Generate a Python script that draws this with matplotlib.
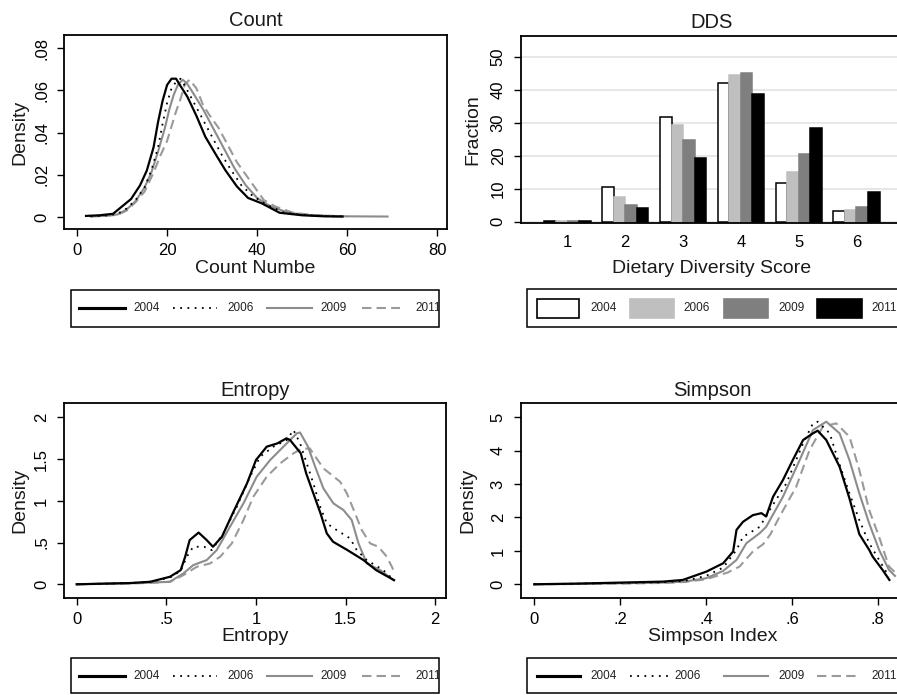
import matplotlib
matplotlib.use("Agg")
import matplotlib.pyplot as plt
from matplotlib.lines import Line2D
from matplotlib.patches import Rectangle
import numpy as np

plt.rcParams["font.family"] = ["Liberation Sans", "DejaVu Sans"]

W, H = 897, 695   # output size in pixels

YEARS = ["2004", "2006", "2009", "2011"]

# ── Count: kernel density of food count ──────────────────────────────────────
count_x_2004 = [2, 5, 8, 10, 12, 14, 15.5, 17, 18, 19, 20, 21, 22, 23, 24.5, 26.5,
                28.5, 31, 33, 35.5, 38, 41, 45, 50, 55, 59]
count_y_2004 = [.0005, .0008, .0015, .005, .0085, .015, .022, .033, .045, .055, .0625,
                .0655, .0655, .062, .057, .048, .038, .029, .022, .0145, .009, .0065,
                .002, .0008, .0003, .0002]
count_x_2006 = [3, 6, 9, 11, 13, 15, 16.5, 18, 19, 20, 21, 22, 23, 24, 25.5, 27.5,
                29.5, 32, 34, 36.5, 39, 42, 46, 50, 55, 60]
count_y_2006 = [.0003, .0006, .0015, .004, .008, .014, .022, .033, .044, .054, .061,
                .064, .0655, .062, .056, .048, .040, .030, .023, .015, .010, .006,
                .002, .001, .0004, .0002]
count_x_2009 = [3, 6, 9, 11, 13, 15, 16.5, 18, 19.5, 20.5, 21.5, 22.5, 23.5, 24.5, 26,
                28, 30, 32.5, 35, 37.5, 40, 43, 47, 52, 60, 69]
count_y_2009 = [.0003, .0005, .0012, .0035, .0075, .014, .021, .031, .042, .051, .058,
                .063, .065, .063, .058, .051, .043, .033, .023, .015, .009, .005,
                .002, .0008, .0003, .0002]
count_x_2011 = [3, 6, 9, 11, 13, 15, 17, 18.5, 20, 21, 22, 23, 24, 25, 26.5, 28, 29.5,
                31.5, 33.5, 35.5, 37.5, 39.5, 41.5, 44, 48, 52, 58]
count_y_2011 = [.0003, .0005, .001, .003, .007, .012, .021, .029, .036, .043, .050,
                .056, .063, .065, .061, .053, .048, .042, .034, .026, .020, .014,
                .008, .005, .002, .001, .0003]
count_xticks = [0, 20, 40, 60, 80]
count_yticks = [0, .02, .04, .06, .08]
count_yticklabels = ["0", ".02", ".04", ".06", ".08"]

# ── DDS: fraction of households by dietary diversity score ───────────────────
dds_scores = [1, 2, 3, 4, 5, 6]
dds_2004 = [0.3, 10.4, 31.6, 42.2, 11.6, 3.3]
dds_2006 = [0.2, 7.6, 29.2, 44.5, 15.0, 3.5]
dds_2009 = [0.3, 5.2, 24.9, 45.2, 20.6, 4.4]
dds_2011 = [0.3, 4.3, 19.4, 38.8, 28.4, 8.9]
dds_yticks = [0, 10, 20, 30, 40, 50]

# ── Entropy ──────────────────────────────────────────────────────────────────
ent_x_2004 = [0, 0.1, 0.2, 0.3, 0.41, 0.52, 0.58, 0.605, 0.63, 0.68, 0.725, 0.76, 0.81,
              0.87, 0.95, 1.0, 1.06, 1.12, 1.17, 1.19, 1.25, 1.28, 1.32, 1.36, 1.395,
              1.43, 1.51, 1.6, 1.67, 1.77]
ent_y_2004 = [0, 0.005, 0.01, 0.015, 0.03, 0.09, 0.17, 0.33, 0.53, 0.62, 0.53, 0.45,
              0.57, 0.85, 1.21, 1.49, 1.65, 1.69, 1.75, 1.73, 1.57, 1.33, 1.09, 0.85,
              0.61, 0.51, 0.41, 0.29, 0.17, 0.05]
ent_x_2006 = [0, 0.1, 0.2, 0.3, 0.41, 0.52, 0.58, 0.614, 0.65, 0.71, 0.753, 0.818, 0.893,
              0.967, 1.023, 1.097, 1.172, 1.209, 1.246, 1.283, 1.32, 1.358, 1.395, 1.45,
              1.525, 1.562, 1.618, 1.71, 1.77]
ent_y_2006 = [0, 0.005, 0.01, 0.015, 0.03, 0.08, 0.16, 0.33, 0.45, 0.45, 0.41, 0.61,
              0.93, 1.29, 1.53, 1.65, 1.73, 1.85, 1.69, 1.45, 1.21, 0.93, 0.73, 0.65,
              0.55, 0.41, 0.29, 0.17, 0.05]
ent_x_2009 = [0, 0.1, 0.2, 0.3, 0.41, 0.52, 0.595, 0.65, 0.725, 0.781, 0.855, 0.93,
              1.004, 1.079, 1.153, 1.228, 1.246, 1.29, 1.33, 1.376, 1.432, 1.488, 1.534,
              1.572, 1.618, 1.693, 1.767]
ent_y_2009 = [0, 0.005, 0.008, 0.012, 0.02, 0.03, 0.13, 0.23, 0.29, 0.41, 0.69, 0.97,
              1.29, 1.49, 1.65, 1.81, 1.82, 1.65, 1.41, 1.15, 0.97, 0.89, 0.77, 0.49,
              0.25, 0.17, 0.05]
ent_x_2011 = [0, 0.1, 0.2, 0.3, 0.41, 0.52, 0.595, 0.67, 0.744, 0.8, 0.865, 0.93, 0.985,
              1.06, 1.135, 1.209, 1.25, 1.30, 1.376, 1.469, 1.507, 1.553, 1.59, 1.637,
              1.683, 1.73, 1.758, 1.77]
ent_y_2011 = [0, 0.003, 0.006, 0.01, 0.017, 0.03, 0.11, 0.21, 0.25, 0.33, 0.49, 0.77,
              1.05, 1.29, 1.45, 1.57, 1.62, 1.63, 1.39, 1.23, 1.09, 0.85, 0.65, 0.49,
              0.45, 0.33, 0.21, 0.15]
ent_xticks = [0, 0.5, 1, 1.5, 2]
ent_xticklabels = ["0", ".5", "1", "1.5", "2"]
ent_yticks = [0, 0.5, 1, 1.5, 2]
ent_yticklabels = ["0", ".5", "1", "1.5", "2"]

# ── Simpson ──────────────────────────────────────────────────────────────────
simp_x_2004 = [0, 0.1, 0.2, 0.3, 0.346, 0.401, 0.44, 0.463, 0.471, 0.486, 0.509, 0.529,
               0.54, 0.556, 0.579, 0.602, 0.626, 0.649, 0.66, 0.68, 0.711, 0.734, 0.757,
               0.78, 0.788, 0.811, 0.827]
simp_y_2004 = [0, 0.02, 0.05, 0.08, 0.13, 0.38, 0.63, 0.98, 1.63, 1.87, 2.07, 2.13,
               2.03, 2.62, 3.12, 3.72, 4.32, 4.52, 4.6, 4.32, 3.52, 2.57, 1.5, 1.03,
               0.83, 0.43, 0.13]
simp_x_2006 = [0, 0.1, 0.2, 0.3, 0.35, 0.4, 0.44, 0.471, 0.486, 0.525, 0.548, 0.587,
               0.626, 0.649, 0.66, 0.688, 0.71, 0.734, 0.757, 0.78, 0.803, 0.826]
simp_y_2006 = [0, 0.02, 0.04, 0.06, 0.1, 0.25, 0.5, 1.03, 1.42, 1.72, 2.22, 3.02, 4.22,
               4.82, 4.87, 4.52, 3.62, 2.72, 1.92, 1.23, 0.73, 0.23]
simp_x_2009 = [0, 0.1, 0.2, 0.3, 0.35, 0.4, 0.44, 0.471, 0.494, 0.525, 0.54, 0.579,
               0.618, 0.649, 0.68, 0.711, 0.734, 0.757, 0.78, 0.803, 0.826, 0.84]
simp_y_2009 = [0, 0.01, 0.03, 0.05, 0.08, 0.18, 0.4, 0.73, 1.23, 1.53, 1.72, 2.62, 3.72,
               4.62, 4.87, 4.52, 3.72, 2.72, 1.82, 1.03, 0.43, 0.25]
simp_x_2011 = [0, 0.1, 0.2, 0.3, 0.35, 0.4, 0.45, 0.478, 0.509, 0.533, 0.55, 0.571,
               0.61, 0.641, 0.672, 0.703, 0.734, 0.757, 0.78, 0.803, 0.826, 0.845]
simp_y_2011 = [0, 0.01, 0.02, 0.04, 0.07, 0.15, 0.35, 0.53, 0.98, 1.2, 1.5, 2.02, 2.92,
               4.02, 4.72, 4.82, 4.42, 3.42, 2.22, 1.42, 0.53, 0.3]
simp_xticks = [0, 0.2, 0.4, 0.6, 0.8]
simp_xticklabels = ["0", ".2", ".4", ".6", ".8"]
simp_yticks = [0, 1, 2, 3, 4, 5]


LINE_STYLE = {
    "2004": dict(color="black", lw=1.6, ls="-"),
    "2006": dict(color="black", lw=1.3, ls=(0, (1, 3))),
    "2009": dict(color="#8c8c8c", lw=1.5, ls="-"),
    "2011": dict(color="#9a9a9a", lw=1.5, ls=(0, (4.5, 2.5))),
}
BAR_COLOR = {"2004": "white", "2006": "#bfbfbf", "2009": "#7f7f7f", "2011": "black"}

fig = plt.figure(figsize=(W / 100, H / 100), dpi=100)
fig.patch.set_facecolor("white")


def px_axes(left, top, right, bottom):
    return fig.add_axes([left / W, 1 - bottom / H, (right - left) / W, (bottom - top) / H])


def style_axes(ax, title, xlabel, ylabel, title_y, xlabel_y, ylabel_x):
    for sp in ax.spines.values():
        sp.set_linewidth(1.3)
    ax.tick_params(direction="out", length=4.8, width=1.0, labelsize=12, pad=5)
    ax.tick_params(axis="y", pad=6)
    for lab in ax.get_yticklabels():
        lab.set_rotation(90)
        lab.set_va("center")
    ax.text(0.5, title_y, title, transform=ax.transAxes, ha="center", va="center",
            fontsize=14.5, color="#1a1a1a")
    ax.set_xlabel(xlabel, fontsize=14, va="center", color="#1a1a1a")
    ax.xaxis.set_label_coords(0.5, xlabel_y)
    ax.set_ylabel(ylabel, fontsize=14, va="center", color="#1a1a1a")
    ax.yaxis.set_label_coords(ylabel_x, 0.5)


def line_legend(box, items):
    # box in pixels (x0, y0, x1, y1); items: (line_x0, line_x1, text_x) per year
    x0, y0, x1, y1 = box
    rect = Rectangle((x0 / W, 1 - y1 / H), (x1 - x0) / W, (y1 - y0) / H,
                     transform=fig.transFigure, facecolor="white", edgecolor="black", lw=1.1)
    fig.add_artist(rect)
    yc = 1 - (y0 + y1) / 2 / H
    for year, (lx0, lx1, tx) in zip(YEARS, items):
        st = LINE_STYLE[year]
        lw = st["lw"] * (1.4 if year == "2004" else 1.0)
        fig.add_artist(Line2D([lx0 / W, lx1 / W], [yc, yc], transform=fig.transFigure,
                              color=st["color"], lw=lw, ls=st["ls"]))
        t = fig.text(tx / W, yc, year, fontsize=8.5, va="center", ha="left", color="#222222")
        t.set_clip_path(rect)


def bar_legend(box, items):
    x0, y0, x1, y1 = box
    rect = Rectangle((x0 / W, 1 - y1 / H), (x1 - x0) / W, (y1 - y0) / H,
                     transform=fig.transFigure, facecolor="white", edgecolor="black", lw=1.1)
    fig.add_artist(rect)
    yc = (y0 + y1) / 2
    for year, (px0, px1, tx) in zip(YEARS, items):
        fig.add_artist(Rectangle((px0 / W, 1 - (yc + 9.5) / H), (px1 - px0) / W, 19 / H,
                                 transform=fig.transFigure, facecolor=BAR_COLOR[year],
                                 edgecolor="black" if year in ("2004", "2011") else BAR_COLOR[year],
                                 lw=1.2))
        fig.text(tx / W, 1 - yc / H, year, fontsize=8.5, va="center", ha="left", color="#222222")


# ── Count panel ──────────────────────────────────────────────────────────────
ax = px_axes(64, 35, 447, 229)
ax.plot(count_x_2004, count_y_2004, **LINE_STYLE["2004"], zorder=5)
ax.plot(count_x_2006, count_y_2006, **LINE_STYLE["2006"], zorder=4)
ax.plot(count_x_2009, count_y_2009, **LINE_STYLE["2009"], zorder=3)
ax.plot(count_x_2011, count_y_2011, **LINE_STYLE["2011"], zorder=2)
ax.set_xlim(-2.9, 82.2)
ax.set_ylim(-0.0057, 0.0862)
ax.set_xticks(count_xticks)
ax.set_yticks(count_yticks)
ax.set_yticklabels(count_yticklabels)
style_axes(ax, "Count", "Count Numbe", "Density", 1.077, -0.203, -0.115)
line_legend((70.7, 290, 439.3, 326.7),
            [(79, 125, 133), (172.7, 216.7, 227), (266.7, 311.7, 320), (361.7, 400, 415)])

# ── DDS panel ────────────────────────────────────────────────────────────────
ax = px_axes(520.7, 36, 903.3, 222.7)
ax.set_axisbelow(True)
ax.grid(axis="y", color="#e3e3e3", lw=1.2)
cats = np.array(dds_scores)
for i, (year, vals) in enumerate(zip(YEARS, [dds_2004, dds_2006, dds_2009, dds_2011])):
    ec = "black" if year in ("2004", "2011") else BAR_COLOR[year]
    ax.bar(cats + (i - 1.5) * 0.2, vals, width=0.2, color=BAR_COLOR[year],
           edgecolor=ec, linewidth=1.1, zorder=2)
ax.set_xlim(0.19, 6.81)
ax.set_ylim(-0.3, 56.3)
ax.set_xticks(dds_scores)
ax.set_yticks(dds_yticks)
style_axes(ax, "DDS", "Dietary Diversity Score", "Fraction", 1.074, -0.244, -0.124)
ax.tick_params(axis="x", length=0, pad=9)
bar_legend((527.3, 289.3, 905, 326.7),
           [(536.7, 579.3, 590.7), (630, 674, 683), (724, 768.3, 778), (817, 861.7, 871.7)])

# ── Entropy panel ────────────────────────────────────────────────────────────
ax = px_axes(64, 403.3, 446, 598.3)
ax.plot(ent_x_2004, ent_y_2004, **LINE_STYLE["2004"], zorder=5)
ax.plot(ent_x_2006, ent_y_2006, **LINE_STYLE["2006"], zorder=4)
ax.plot(ent_x_2009, ent_y_2009, **LINE_STYLE["2009"], zorder=3)
ax.plot(ent_x_2011, ent_y_2011, **LINE_STYLE["2011"], zorder=2)
ax.set_xlim(-0.071, 2.06)
ax.set_ylim(-0.168, 2.17)
ax.set_xticks(ent_xticks)
ax.set_xticklabels(ent_xticklabels)
ax.set_yticks(ent_yticks)
ax.set_yticklabels(ent_yticklabels)
style_axes(ax, "Entropy", "Entropy", "Density", 1.068, -0.197, -0.115)
line_legend((70.7, 658.3, 439.3, 693.3),
            [(79, 125, 133), (172.7, 216.7, 227), (266.7, 311.7, 320), (361.7, 400, 415)])

# ── Simpson panel ────────────────────────────────────────────────────────────
ax = px_axes(520.7, 403.3, 904, 598.3)
ax.plot(simp_x_2004, simp_y_2004, **LINE_STYLE["2004"], zorder=5)
ax.plot(simp_x_2006, simp_y_2006, **LINE_STYLE["2006"], zorder=4)
ax.plot(simp_x_2009, simp_y_2009, **LINE_STYLE["2009"], zorder=3)
ax.plot(simp_x_2011, simp_y_2011, **LINE_STYLE["2011"], zorder=2)
ax.set_xlim(-0.0316, 0.861)
ax.set_ylim(-0.42, 5.42)
ax.set_xticks(simp_xticks)
ax.set_xticklabels(simp_xticklabels)
ax.set_yticks(simp_yticks)
style_axes(ax, "Simpson", "Simpson Index", "Density", 1.068, -0.197, -0.137)
line_legend((527.3, 658.3, 905, 693.3),
            [(536.7, 580, 590), (630, 668.3, 674), (724, 768.3, 778.3), (816.7, 856.7, 871.7)])

fig.savefig("out.png", dpi=100)
